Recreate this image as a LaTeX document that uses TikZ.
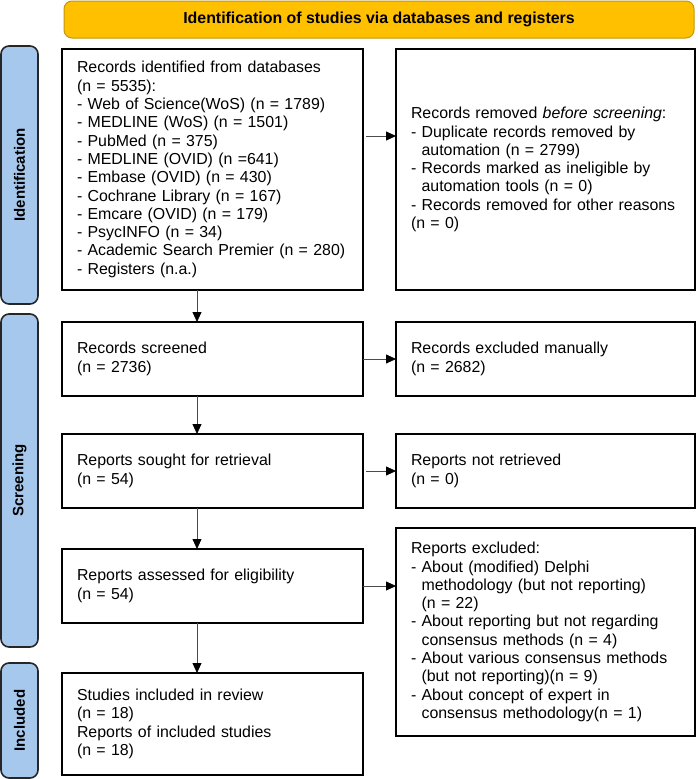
\documentclass[tikz,border=0pt]{standalone}
\usepackage{fontspec}
\setmainfont{Liberation Sans}
\usepackage{tikz}
\usetikzlibrary{positioning}
\usetikzlibrary{arrows.meta}
\definecolor{Gold}{RGB}{255,192,0}
\definecolor{GoldLine}{RGB}{196,150,10}
\definecolor{Sky}{RGB}{166,200,236}
\newcommand{\ind}{\phantom{-}\ }

\tikzset{
    every node/.style={font=\fontsize{15.9}{18.3}\selectfont},
    lbox/.style={draw=black, line width=1.2pt, fill=white, align=left, outer sep=0pt,
        text width=271pt, inner xsep=15pt, inner ysep=0pt, minimum height=74pt},
    rbox/.style={lbox, text width=269pt},
    banner/.style={draw=GoldLine, line width=1pt, fill=Gold, rounded corners=8pt,
        minimum width=630pt, minimum height=37pt, font=\fontsize{15.9}{18.3}\selectfont\bfseries},
    phase/.style={draw=black!85, line width=1.6pt, fill=Sky, rounded corners=8pt, rotate=90,
        minimum height=37pt, font=\fontsize{15}{18}\selectfont\bfseries},
    arrow/.style={-{Triangle[length=10pt,width=9pt,color=black]}, draw=black!70, line width=0.8pt}
}

\begin{document}
\begin{tikzpicture}[x=1pt, y=1pt]
        \useasboundingbox (0,0) rectangle (697,-779);

        % header and phase bars
        \node[banner] (head) at (379,-19.5) {Identification of studies via databases and registers};
        \node[phase, minimum width=258pt] (idbar) at (19.5,-175) {Identification};
        \node[phase, minimum width=333pt] (scbar) at (19.5,-480.5) {Screening};
        \node[phase, minimum width=115pt] (inbar) at (19.5,-720.5) {Included};

        % left column
        \node[lbox, minimum height=241pt] (ident) at (212.5,-169.5) {Records identified from databases\\
            (n = 5535):\\
            - Web of Science(WoS) (n = 1789)\\
            - MEDLINE (WoS) (n = 1501)\\
            - PubMed (n = 375)\\
            - MEDLINE (OVID) (n =641)\\
            - Embase (OVID) (n = 430)\\
            - Cochrane Library (n = 167)\\
            - Emcare (OVID) (n = 179)\\
            - PsycINFO (n = 34)\\
            - Academic Search Premier (n = 280)\\
            - Registers (n.a.)};
        \node[lbox, below=32pt of ident] (screened) {Records screened\\(n = 2736)};
        \node[lbox, below=38pt of screened] (sought) {Reports sought for retrieval\\(n = 54)};
        \node[lbox, below=41pt of sought] (assessed) {Reports assessed for eligibility\\(n = 54)};
        \node[lbox, minimum height=102pt, below=50pt of assessed] (incl) {Studies included in review\\
            (n = 18)\\
            Reports of included studies\\
            (n = 18)};

        % right column
        \node[rbox, minimum height=241pt, right=33pt of ident] (removed) {Records removed \textit{before screening}:\\
            - Duplicate records removed by\\
            \ind automation (n = 2799)\\
            - Records marked as ineligible by\\
            \ind automation tools (n = 0)\\
            - Records removed for other reasons\\
            (n = 0)};
        \node[rbox, right=33pt of screened] (manual) {Records excluded manually\\(n = 2682)};
        \node[rbox, right=33pt of sought] (notret) {Reports not retrieved\\(n = 0)};
        \node[rbox, minimum height=208pt, below=20pt of notret] (excluded) {Reports excluded:\\
            - About (modified) Delphi\\
            \ind methodology (but not reporting)\\
            \ind (n = 22)\\
            - About reporting but not regarding\\
            \ind consensus methods (n = 4)\\
            - About various consensus methods\\
            \ind (but not reporting)(n = 9)\\
            - About concept of expert in\\
            \ind consensus methodology(n = 1)};

        % edges
        \coordinate (ax) at (197,0);
        \draw[arrow] (ident.south -| ax) -- (screened.north -| ax);
        \draw[arrow] (screened.south -| ax) -- (sought.north -| ax);
        \draw[arrow] (sought.south -| ax) -- (assessed.north -| ax);
        \draw[arrow] (assessed.south -| ax) -- (incl.north -| ax);
        \draw[arrow, shorten <=3pt] ([yshift=33.5pt]ident.east) -- ([yshift=33.5pt]removed.west);
        \draw[arrow] (screened.east) -- (manual.west);
        \draw[arrow, shorten <=3pt] (sought.east) -- (notret.west);
        \draw[arrow] (assessed.east) -- (assessed.east -| excluded.west);
\end{tikzpicture}
\end{document}
